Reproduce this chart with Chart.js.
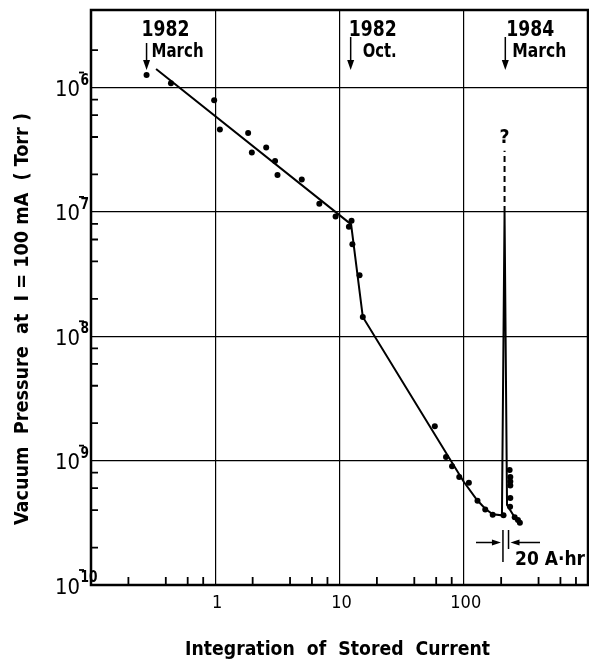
<!DOCTYPE html>
<html>
<head>
<meta charset="utf-8">
<script src="https://cdn.jsdelivr.net/npm/chart.js@4.4.0/dist/chart.umd.min.js"></script>
<style>
  html, body { margin: 0; background: #fff; overflow: hidden; }
  canvas { display: block; }
</style>
</head>
<body>
<canvas id="chart" width="592" height="659"></canvas>
<script>
// measured points (A·hr, Torr)
const measuredX = [0.28, 0.44, 0.98, 1.09, 1.84, 1.97, 2.57, 3.03, 3.17, 4.97, 6.88,
  9.3, 11.9, 12.5, 12.7, 14.5, 15.4, 58.5, 72, 80.5, 92, 110, 129, 149, 171, 209,
  234, 237, 237, 237, 237, 236, 257, 273, 283];
const measuredY = [1.26e-6, 1.08e-6, 7.9e-7, 4.6e-7, 4.3e-7, 3.0e-7, 3.3e-7, 2.56e-7, 1.98e-7, 1.82e-7, 1.16e-7,
  9.2e-8, 7.6e-8, 8.5e-8, 5.5e-8, 3.1e-8, 1.43e-8, 1.89e-9, 1.07e-9, 9.0e-10, 7.4e-10, 6.64e-10, 4.75e-10, 4.05e-10, 3.67e-10, 3.63e-10,
  8.4e-10, 7.4e-10, 6.8e-10, 6.3e-10, 5.0e-10, 4.26e-10, 3.5e-10, 3.33e-10, 3.16e-10];

// hand-drawn trend line incl. the spike
const fitX = [0.334, 12.4, 15.4, 100, 128, 149, 171, 203, 213, 223, 260, 282];
const fitY = [1.41e-6, 7.94e-8, 1.43e-8, 6.76e-10, 4.82e-10, 4.1e-10, 3.71e-10, 3.63e-10, 1e-7, 4.4e-10, 3.44e-10, 3.17e-10];

// dashed continuation of the spike
const dashX = [213, 213];
const dashY = [1e-7, 3.1e-7];

// axes
const xDecades = [0.1, 1, 10, 100, 1000];
const xLabels = ['', '1', '10', '100', ''];
const xMinor = [0.2, 0.4, 0.6, 0.8, 2, 4, 6, 8, 20, 40, 60, 80, 200, 400, 600, 800];
const yDecades = [1e-10, 1e-9, 1e-8, 1e-7, 1e-6];
const yExponents = ['-10', '-9', '-8', '-7', '-6'];
const yMinor = [2e-10, 4e-10, 6e-10, 8e-10, 2e-9, 4e-9, 6e-9, 8e-9, 2e-8, 4e-8, 6e-8, 8e-8,
  2e-7, 4e-7, 6e-7, 8e-7, 2e-6];

// date marks on top
const markX = [0.28, 12.3, 216];
const markYear = ['1982', '1982', '1984'];
const markMonth = ['March', 'Oct.', 'March'];

// 20 A·hr gap marker
const gapX = [203, 223];

const FONT = '"DejaVu Sans Condensed", "DejaVu Sans", sans-serif';

function fitText(ctx, text, left, baseline, width, font) {
  ctx.save();
  ctx.font = font;
  const w = ctx.measureText(text).width;
  ctx.translate(left, baseline);
  ctx.scale(width / w, 1);
  ctx.textAlign = 'left';
  ctx.textBaseline = 'alphabetic';
  ctx.fillText(text, 0, 0);
  ctx.restore();
}

function arrowHead(ctx, x, y, dir, len, half) {
  ctx.beginPath();
  if (dir === 'down') {
    ctx.moveTo(x, y); ctx.lineTo(x - half, y - len); ctx.lineTo(x + half, y - len);
  } else if (dir === 'right') {
    ctx.moveTo(x, y); ctx.lineTo(x - len, y - half); ctx.lineTo(x - len, y + half);
  } else {
    ctx.moveTo(x, y); ctx.lineTo(x + len, y - half); ctx.lineTo(x + len, y + half);
  }
  ctx.closePath();
  ctx.fill();
}

const paperPlugin = {
  id: 'paper',
  beforeDraw(chart) {
    const ctx = chart.ctx;
    ctx.save();
    ctx.fillStyle = '#fff';
    ctx.fillRect(0, 0, chart.width, chart.height);
    ctx.restore();
  },
  afterDraw(chart) {
    const ctx = chart.ctx;
    const a = chart.chartArea;
    const xs = chart.scales.x, ys = chart.scales.y;
    ctx.save();
    ctx.strokeStyle = '#000';
    ctx.fillStyle = '#000';

    // frame
    ctx.lineWidth = 2.5;
    ctx.strokeRect(a.left, a.top, a.right - a.left, a.bottom - a.top);

    // minor ticks, inward
    ctx.lineWidth = 1.8;
    ctx.beginPath();
    xMinor.forEach(v => {
      const px = xs.getPixelForValue(v);
      ctx.moveTo(px, a.bottom); ctx.lineTo(px, a.bottom - 8);
    });
    yMinor.forEach(v => {
      const py = ys.getPixelForValue(v);
      ctx.moveTo(a.left, py); ctx.lineTo(a.left + 7, py);
    });
    ctx.stroke();

    // x tick labels
    ctx.font = '18px ' + FONT;
    ctx.textAlign = 'center';
    ctx.textBaseline = 'alphabetic';
    xDecades.forEach((v, i) => {
      if (!xLabels[i]) return;
      const px = xs.getPixelForValue(v);
      ctx.fillText(xLabels[i], px + 2, 608);
    });

    // y tick labels 10^n
    yDecades.forEach((v, i) => {
      const py = ys.getPixelForValue(v);
      fitText(ctx, '10', 55, py + 8.5, 25, '22px ' + FONT);
      const digits = yExponents[i].slice(1);
      ctx.lineWidth = 1.8;
      ctx.beginPath();
      ctx.moveTo(79, py - 15); ctx.lineTo(84, py - 15);
      ctx.stroke();
      fitText(ctx, digits, 80.5, py - 3, digits.length * 8.5, 'bold 15px ' + FONT);
    });

    // axis titles
    fitText(ctx, 'Integration  of  Stored  Current', 185, 655, 305, 'bold 20px ' + FONT);
    ctx.save();
    ctx.translate(28, 525);
    ctx.rotate(-Math.PI / 2);
    fitText(ctx, 'Vacuum  Pressure  at  I = 100 mA  ( Torr )', 0, 0, 412, 'bold 20px ' + FONT);
    ctx.restore();

    // date marks
    const yearOff = [-5, -2, 1];
    const monthOff = [5, 12, 7];
    const monthW = [52, 34, 54];
    const arrowTop = [43, 37, 37];
    markX.forEach((v, i) => {
      const px = xs.getPixelForValue(v);
      ctx.lineWidth = 1.5;
      ctx.beginPath();
      ctx.moveTo(px, arrowTop[i]); ctx.lineTo(px, 62);
      ctx.stroke();
      arrowHead(ctx, px, 70, 'down', 10, 3.5);
      fitText(ctx, markYear[i], px + yearOff[i], 36, 48, 'bold 22px ' + FONT);
      fitText(ctx, markMonth[i], px + monthOff[i], 57, monthW[i], 'bold 20px ' + FONT);
    });

    // question mark over the spike
    fitText(ctx, '?', xs.getPixelForValue(dashX[1]) - 5, 143, 10, 'bold 19px ' + FONT);

    // 20 A·hr gap
    const g0 = xs.getPixelForValue(gapX[0]) + 1;
    const g1 = xs.getPixelForValue(gapX[1]) + 1.5;
    ctx.lineWidth = 1.5;
    ctx.beginPath();
    ctx.moveTo(g0, 530); ctx.lineTo(g0, 562);
    ctx.moveTo(g1, 530); ctx.lineTo(g1, 549);
    ctx.moveTo(476, 542.5); ctx.lineTo(g0 - 6, 542.5);
    ctx.moveTo(540, 542.5); ctx.lineTo(g1 + 6, 542.5);
    ctx.stroke();
    arrowHead(ctx, g0 - 2, 542.5, 'right', 9, 3);
    arrowHead(ctx, g1 + 2, 542.5, 'left', 9, 3);
    fitText(ctx, '20 A·hr', 515, 565, 70, 'bold 20px ' + FONT);

    ctx.restore();
  }
};

const toPts = (xs, ys) => xs.map((x, i) => ({ x, y: ys[i] }));

new Chart(document.getElementById('chart'), {
  type: 'scatter',
  data: {
    datasets: [
      {
        data: toPts(fitX, fitY),
        showLine: true,
        borderColor: '#000',
        borderWidth: 2,
        pointRadius: 0,
        tension: 0
      },
      {
        data: toPts(dashX, dashY),
        showLine: true,
        borderColor: '#000',
        borderWidth: 2,
        borderDash: [6, 4],
        pointRadius: 0
      },
      {
        data: toPts(measuredX, measuredY),
        showLine: false,
        backgroundColor: '#000',
        borderColor: '#000',
        pointRadius: 3,
        borderWidth: 0
      }
    ]
  },
  options: {
    responsive: false,
    animation: false,
    layout: { padding: { left: 91, top: 10, right: 0, bottom: 74 } },
    plugins: { legend: { display: false }, tooltip: { enabled: false } },
    scales: {
      x: {
        type: 'logarithmic',
        min: 0.1,
        max: 1000,
        afterBuildTicks: s => { s.ticks = xDecades.map(v => ({ value: v })); },
        ticks: { display: false },
        grid: { color: '#000', lineWidth: 1.2, drawTicks: false },
        border: { display: false }
      },
      y: {
        type: 'logarithmic',
        min: 1e-10,
        max: 4.2e-6,
        afterBuildTicks: s => { s.ticks = yDecades.map(v => ({ value: v })); },
        ticks: { display: false },
        grid: { color: '#000', lineWidth: 1.2, drawTicks: false },
        border: { display: false }
      }
    }
  },
  plugins: [paperPlugin]
});
</script>
</body>
</html>
